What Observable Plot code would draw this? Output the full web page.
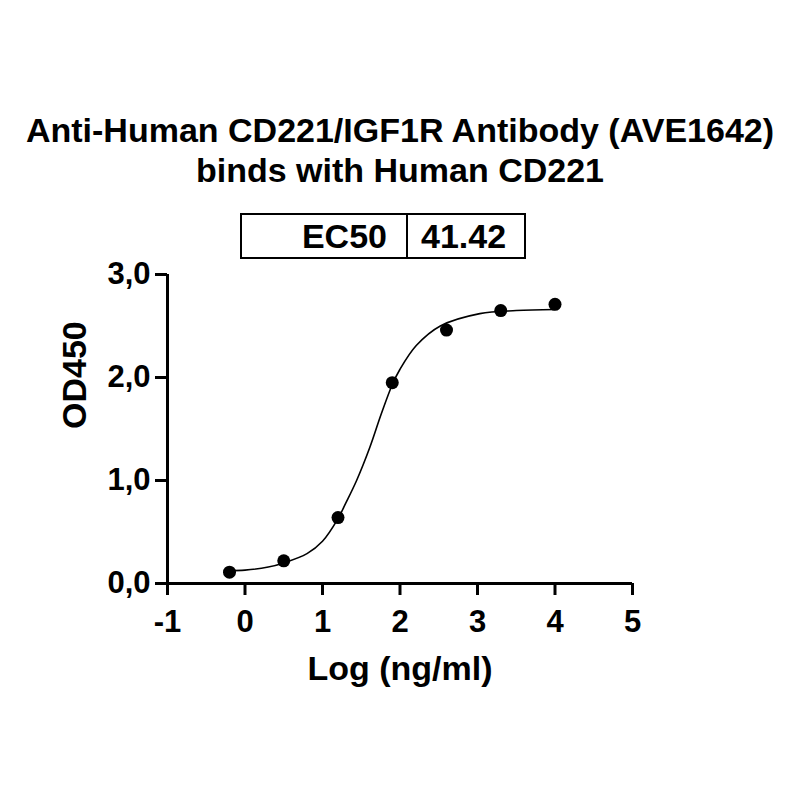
<!DOCTYPE html>
<html>
<head>
<meta charset="utf-8">
<script src="https://cdn.jsdelivr.net/npm/d3@7"></script>
<script src="https://cdn.jsdelivr.net/npm/@observablehq/plot@0.6"></script>
<style>
  html, body { margin: 0; padding: 0; background: #fff; }
  #wrap { position: relative; width: 800px; height: 800px; background: #fff; overflow: hidden;
          font-family: "Liberation Sans", Arial, sans-serif; font-weight: bold; color: #000; }
  #wrap svg { position: absolute; left: 0; top: 0; }
  .t { position: absolute; left: 0; width: 800px; text-align: center; font-size: 34px; line-height: 41px; white-space: nowrap; }
  .box { position: absolute; left: 240px; top: 213px; width: 286px; height: 46px; border: 2px solid #000; box-sizing: border-box; }
  .div { position: absolute; left: 405.5px; top: 213px; width: 2px; height: 46px; background: #000; }
  .cell { position: absolute; top: 213px; height: 46px; line-height: 46px; font-size: 34px; white-space: nowrap; }
</style>
</head>
<body>
<div id="wrap">
  <div id="chart"></div>
  <div class="t" id="title1" style="top:110px"></div>
  <div class="t" id="title2" style="top:150px"></div>
  <div class="box"></div>
  <div class="div"></div>
  <div class="cell" id="ecLabel" style="left:240px; width:147px; text-align:right;"></div>
  <div class="cell" id="ecValue" style="left:421px;"></div>
</div>
<script>
// ---- data ----
const titleLines = ["Anti-Human CD221/IGF1R Antibody (AVE1642)", "binds with Human CD221"];
const ec50Label = "EC50";
const ec50Value = "41.42";
const xLabel = "Log (ng/ml)";
const yLabel = "OD450";
const xTicks = [-1, 0, 1, 2, 3, 4, 5];
const yTicks = [0, 1, 2, 3];

// measured points
const logConc = [-0.2, 0.5, 1.2, 1.9, 2.6, 3.3, 4.0];
const od450   = [0.11, 0.22, 0.64, 1.95, 2.46, 2.65, 2.71];

// fitted curve
const fitX = [-0.2, 0.0, 0.3, 0.5, 0.8, 1.0, 1.2, 1.3, 1.44, 1.61, 1.76, 1.9, 2.0, 2.21, 2.52, 3.03, 3.5, 4.0];
const fitY = [0.125, 0.13, 0.16, 0.20, 0.29, 0.41, 0.63, 0.78, 1.00, 1.32, 1.65, 1.93, 2.08, 2.31, 2.50, 2.62, 2.65, 2.66];

const points = logConc.map((x, i) => ({x, y: od450[i]}));
const fit = fitX.map((x, i) => ({x, y: fitY[i]}));

document.getElementById("title1").textContent = titleLines[0];
document.getElementById("title2").textContent = titleLines[1];
document.getElementById("ecLabel").textContent = ec50Label;
document.getElementById("ecValue").textContent = ec50Value;

const fmt = d => d.toFixed(1).replace(".", ",");

const chart = Plot.plot({
  width: 800,
  height: 800,
  marginLeft: 167,
  marginRight: 168,
  marginTop: 274,
  marginBottom: 217,
  style: { fontFamily: "'Liberation Sans', Arial, sans-serif", fontWeight: "bold", background: "transparent", color: "#000" },
  x: { domain: [-1, 5] },
  y: { domain: [0, 3] },
  marks: [
    Plot.axisY(yTicks, { tickSize: 12, strokeWidth: 3, tickPadding: 5, fontSize: 31, tickFormat: fmt, label: null }),
    Plot.axisX(xTicks, { tickSize: 12, strokeWidth: 3, tickPadding: 14, fontSize: 31, tickFormat: d => String(d), label: null }),
    Plot.ruleX([xTicks[0]], { y1: yTicks[0], y2: yTicks[yTicks.length - 1], strokeWidth: 3 }),
    Plot.ruleY([yTicks[0]], { x1: xTicks[0], x2: xTicks[xTicks.length - 1], strokeWidth: 3 }),
    Plot.line(fit, { x: "x", y: "y", curve: "catmull-rom", strokeWidth: 1.6, stroke: "#000" }),
    Plot.dot(points, { x: "x", y: "y", r: 6.5, fill: "#000", stroke: "none" }),
    Plot.text([xLabel], { frameAnchor: "bottom", lineAnchor: "bottom", dy: 96, fontSize: 34, fontWeight: "bold" }),
    Plot.text([yLabel], { frameAnchor: "left", rotate: -90, dx: -92, fontSize: 34, fontWeight: "bold" })
  ]
});
document.getElementById("chart").appendChild(chart);
</script>
</body>
</html>
